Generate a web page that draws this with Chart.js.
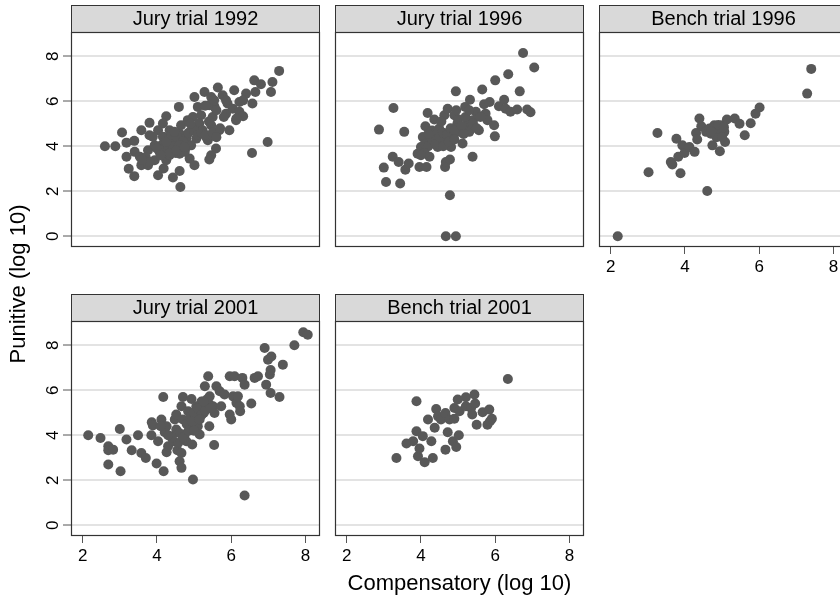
<!DOCTYPE html>
<html><head><meta charset="utf-8">
<script src="https://cdn.jsdelivr.net/npm/chart.js"></script>
<style>
html,body{margin:0;padding:0;background:#fff;overflow:hidden;}
#wrap{position:relative;width:840px;height:602px;overflow:hidden;background:#fff;}
#wrap canvas{position:absolute;left:0;top:0;}
</style></head><body>
<div id="wrap">
<canvas id="c0" width="860" height="602"></canvas>
<canvas id="c1" width="860" height="602"></canvas>
<canvas id="c2" width="860" height="602"></canvas>
<canvas id="c3" width="860" height="602"></canvas>
<canvas id="c4" width="860" height="602"></canvas>
</div>
<script>
// ---- data ----
const panelTitles = ['Jury trial 1992', 'Jury trial 1996', 'Bench trial 1996', 'Jury trial 2001', 'Bench trial 2001'];
const xTicks = [2, 4, 6, 8];
const yTicks = [0, 2, 4, 6, 8];
const xAxisTitle = 'Compensatory (log 10)';
const yAxisTitle = 'Punitive (log 10)';

const jury1992 = [
[2.60,4.00],[2.88,4.00],[3.06,4.61],[3.18,4.16],[3.18,3.53],[3.24,3.00],[3.39,4.24],[3.39,2.67],[3.40,3.75],[3.54,3.53],[3.58,3.16],[3.58,4.71],
[3.80,5.04],[3.80,4.49],[3.76,3.82],[3.67,3.45],[4.03,2.71],[4.18,3.01],[4.43,2.61],[4.61,2.90],[4.63,2.19],[4.88,3.45],[5.01,3.16],
[4.25,5.33],[4.16,5.01],[4.03,4.71],[4.16,4.42],[4.12,4.04],[4.07,3.75],[4.25,3.38],[4.34,4.71],[4.38,4.27],[4.43,3.82],[4.52,4.12],
[4.61,4.56],[4.59,5.75],[4.70,3.82],[4.79,3.97],[4.65,4.93],[4.83,5.16],[4.97,5.30],[5.01,6.19],[5.10,5.75],[5.19,5.38],[5.14,5.01],
[5.23,4.71],[5.32,4.42],[5.28,6.41],[5.46,6.19],[5.41,5.82],[5.55,5.75],[5.64,6.61],[5.50,5.30],[5.46,4.93],[5.37,4.27],[5.50,4.49],
[5.59,3.90],[5.46,3.60],[5.41,3.41],[5.68,4.71],[5.77,6.27],[5.90,5.90],[5.86,5.45],[5.95,4.71],[6.08,6.49],[6.04,5.67],[6.13,5.16],
[6.22,5.53],[6.40,6.34],[6.22,5.97],[6.62,6.93],[6.65,6.41],[6.57,5.90],[6.80,6.76],[7.11,6.86],[7.07,6.41],[6.98,4.19],[6.56,3.70],
[7.29,7.35],[4.79,4.34],[5.06,4.34],[4.92,4.04],[4.61,3.67],[4.34,3.60],[3.94,4.04],[3.89,4.42],[3.94,3.38],[3.76,3.16],
[4.20,3.90],[4.30,4.00],[4.45,4.00],[4.50,3.70],[4.25,4.20],[4.40,4.50],[4.55,4.40],[4.70,4.20],[4.00,3.90],[4.10,3.60],[4.60,4.05],
[4.75,3.75],[4.85,4.60],[5.00,4.70],[5.10,4.50],[5.20,4.60],[5.30,4.50],[5.50,4.60],[5.60,4.40],[5.40,5.10],[5.60,5.60],[5.80,5.30],
[5.30,5.80],[4.90,5.00],[5.70,4.80],[4.35,3.70],[3.70,3.50],[3.80,3.30],[3.60,3.40],[5.54,6.04],[5.86,6.04],[6.32,6.04],[6.32,5.33],
[6.14,5.23],[4.47,4.64],[4.52,3.82],[4.74,3.97]
];

const jury1996 = [
[2.87,4.74],[3.26,5.70],[3.00,3.05],[3.06,2.41],[3.24,3.53],[3.40,3.30],[3.44,2.34],[3.55,4.64],[3.58,2.96],[3.67,3.23],[3.91,3.67],
[3.96,3.08],[4.00,3.97],[4.05,4.41],[4.12,4.89],[4.15,3.08],[4.18,5.48],[4.23,4.27],[4.23,3.53],[4.36,5.19],[4.40,4.56],[4.45,3.97],
[4.49,4.79],[4.58,4.27],[4.63,5.38],[4.65,3.08],[4.67,3.30],[4.72,5.67],[4.78,3.41],[4.78,1.82],[4.67,0.00],[4.94,0.00],[4.81,3.97],
[4.85,4.49],[4.94,6.44],[4.90,5.38],[4.98,5.00],[5.03,4.64],[5.12,4.12],[5.19,5.75],[5.21,4.93],[5.32,6.07],[5.30,4.64],[5.39,3.53],
[5.40,5.16],[5.48,5.53],[5.56,4.71],[5.65,6.52],[5.70,5.87],[5.74,5.45],[5.79,5.16],[5.85,5.97],[5.97,4.93],[5.99,4.44],[6.00,6.93],
[6.10,5.78],[6.24,6.07],[6.28,5.67],[6.35,7.20],[6.41,5.53],[6.59,5.63],[6.66,6.44],[6.75,8.15],[6.86,5.63],[6.95,5.51],[7.05,7.50],
[4.10,4.10],[4.20,4.00],[4.30,4.30],[4.40,4.10],[4.50,4.40],[4.60,4.60],[4.70,4.50],[4.80,4.80],[4.90,4.70],[5.00,5.20],[5.10,4.90],
[4.30,4.70],[4.10,3.70],[4.00,3.60],[4.60,4.00],[4.75,4.20],[4.90,4.30],[5.20,5.30],[5.40,5.00],[5.50,4.80],[5.60,5.30],[5.30,5.60],
[4.55,5.10],[4.20,4.55],[4.95,5.60],[5.15,4.55]
];

const bench1996 = [
[2.19,0.00],[3.02,2.84],[3.26,4.59],[3.62,3.30],[3.66,3.19],[3.77,4.33],[3.82,3.53],[3.88,2.80],[3.93,4.04],[3.99,3.70],[4.12,3.97],
[4.26,3.75],[4.30,4.59],[4.33,4.30],[4.39,5.23],[4.44,4.89],[4.60,2.01],[4.57,4.64],[4.66,4.79],[4.70,4.56],[4.74,4.04],[4.79,4.93],
[4.83,4.71],[4.88,4.86],[4.92,4.56],[4.94,3.78],[5.01,4.93],[5.06,4.64],[5.08,4.19],[5.13,5.19],[5.34,5.23],[5.47,5.00],[5.61,4.49],
[5.77,5.02],[5.90,5.45],[6.01,5.72],[7.29,6.34],[7.40,7.44],
[4.80,4.60],[4.85,4.40],[4.95,4.75],[4.75,4.80],[5.00,4.40],[4.90,4.95],[4.70,4.65],[5.05,4.85]
];

const jury2001 = [
[2.15,4.00],[2.48,3.88],[2.69,3.51],[2.69,3.33],[2.82,3.36],[2.69,2.70],[3.00,4.28],[3.02,2.40],[3.18,3.81],[3.32,3.33],[3.49,4.00],
[3.58,3.21],[3.70,2.99],[3.85,4.00],[3.86,4.58],[3.89,4.43],[3.99,2.74],[4.03,3.73],[4.12,4.70],[4.17,5.70],[4.18,2.40],[4.21,4.13],
[4.26,4.40],[4.26,3.24],[4.30,3.51],[4.36,3.96],[4.44,3.73],[4.48,4.70],[4.52,4.92],[4.52,4.25],[4.55,3.33],[4.57,3.66],[4.61,2.84],
[4.66,3.21],[4.66,2.55],[4.66,5.29],[4.70,5.70],[4.70,4.70],[4.75,4.03],[4.79,3.73],[4.84,5.07],[4.88,4.40],[4.93,5.61],[4.95,3.59],
[4.97,2.03],[5.02,4.84],[5.06,5.29],[5.10,4.40],[5.15,4.03],[5.20,5.50],[5.26,4.99],[5.29,6.18],[5.31,5.29],[5.38,6.62],[5.41,4.40],
[5.42,5.73],[5.51,5.29],[5.54,3.57],[5.55,4.99],[5.60,6.18],[5.69,5.96],[5.73,5.29],[5.82,5.81],[5.96,6.62],[5.96,4.92],[6.00,4.70],
[6.05,5.73],[6.09,6.62],[6.14,5.44],[6.18,5.73],[6.23,5.29],[6.24,5.07],[6.30,6.55],[6.36,6.25],[6.36,1.32],[6.54,5.41],[6.63,6.55],
[6.72,6.62],[6.90,7.88],[6.94,6.25],[6.99,7.36],[7.04,6.70],[7.08,7.50],[7.06,5.88],[7.06,6.90],[7.30,5.70],[7.39,7.14],[7.70,8.00],
[7.94,8.58],[8.06,8.47],
[4.80,4.50],[4.90,4.80],[5.00,5.00],[5.10,5.20],[5.20,4.90],[5.30,5.10],[5.40,5.40],[4.95,4.60],[5.15,4.70],[4.60,4.10],[4.40,3.90],
[4.70,3.90],[4.85,4.20],[5.35,5.60],[5.45,5.20],[5.00,4.20],[4.30,4.00],[4.10,4.40],[5.25,5.50]
];

const bench2001 = [
[3.34,2.99],[3.61,3.63],[3.79,3.73],[3.88,5.51],[3.88,4.18],[3.92,3.07],[3.96,3.41],[4.05,3.96],[4.10,2.80],[4.19,4.70],[4.28,3.73],
[4.32,2.99],[4.37,4.33],[4.41,5.17],[4.46,4.84],[4.54,4.70],[4.66,4.99],[4.66,3.36],[4.72,4.13],[4.77,4.70],[4.86,3.73],[4.90,4.73],
[4.90,5.21],[4.95,3.48],[4.99,5.59],[5.02,4.00],[5.04,5.07],[5.21,5.69],[5.21,5.29],[5.35,5.21],[5.38,4.92],[5.44,5.81],[5.46,5.41],
[5.50,4.47],[5.66,5.02],[5.79,4.47],[5.84,5.14],[5.86,4.62],[5.91,4.73],[6.34,6.50]
];

// ---- layout ----
const W = 860, H = 602;
const X_MIN = 1.686, X_MAX = 8.39, Y_MIN = -0.48, Y_MAX = 9.08;
const HEADER_H = 27;
const panels = [
  {title: panelTitles[0], data: jury1992, rect: {l:71,  r:320, t:32,  b:247}, yLabels:true,  xLabels:false},
  {title: panelTitles[1], data: jury1996, rect: {l:335, r:584, t:32,  b:247}, yLabels:false, xLabels:false},
  {title: panelTitles[2], data: bench1996, rect: {l:599, r:848, t:32,  b:247}, yLabels:false, xLabels:true},
  {title: panelTitles[3], data: jury2001, rect: {l:71,  r:320, t:321, b:536}, yLabels:true,  xLabels:true, yTitle:true},
  {title: panelTitles[4], data: bench2001, rect: {l:335, r:584, t:321, b:536}, yLabels:false, xLabels:true, xTitle:true}
];
const FONT = '"Liberation Sans", Arial, Helvetica, sans-serif';
Chart.defaults.font.family = FONT;

const deco = {
  id: 'deco',
  afterDraw(chart, args, o) {
    const ctx = chart.ctx, ca = chart.chartArea;
    ctx.save();
    // header
    ctx.fillStyle = '#d9d9d9';
    ctx.fillRect(ca.left, ca.top - HEADER_H, ca.right - ca.left, HEADER_H);
    ctx.strokeStyle = '#333';
    ctx.lineWidth = 1;
    ctx.strokeRect(ca.left + 0.5, ca.top - HEADER_H + 0.5, ca.right - ca.left - 1, HEADER_H);
    ctx.fillStyle = '#000';
    ctx.font = '20px ' + FONT;
    ctx.textAlign = 'center';
    ctx.textBaseline = 'middle';
    ctx.fillText(o.title, (ca.left + ca.right) / 2, ca.top - HEADER_H / 2 + 1);
    // plot border
    ctx.strokeStyle = '#333';
    ctx.lineWidth = 1.2;
    ctx.strokeRect(ca.left + 0.5, ca.top + 0.5, ca.right - ca.left - 1, ca.bottom - ca.top - 1);
    // rotated y tick labels
    if (o.yLabels) {
      const ys = chart.scales.y;
      ctx.font = '17px ' + FONT;
      ctx.textAlign = 'center';
      ctx.textBaseline = 'alphabetic';
      ys.ticks.forEach(t => {
        const py = ys.getPixelForValue(t.value);
        ctx.save();
        ctx.translate(ca.left - 13, py);
        ctx.rotate(-Math.PI / 2);
        ctx.fillText(String(t.value), 0, 0);
        ctx.restore();
      });
    }
    if (o.yTitle) {
      const cy = (panels[0].rect.t + panels[3].rect.b) / 2;
      ctx.font = '22px ' + FONT;
      ctx.textAlign = 'center';
      ctx.textBaseline = 'middle';
      ctx.translate(ca.left - 52, cy);
      ctx.rotate(-Math.PI / 2);
      ctx.fillText(yAxisTitle, 0, 0);
    }
    ctx.restore();
  }
};

panels.forEach((p, i) => {
  const xAxisH = p.xLabels ? (p.xTitle ? H - p.rect.b : 40) : 0;
  new Chart(document.getElementById('c' + i), {
    type: 'scatter',
    data: {datasets: [{
      data: p.data.map(([x, y]) => ({x, y})),
      backgroundColor: '#585858', borderWidth: 0,
      pointRadius: 5, pointHoverRadius: 5
    }]},
    options: {
      responsive: false, animation: false, devicePixelRatio: 1, events: [],
      layout: {padding: {left: p.rect.l, right: W - p.rect.r, top: p.rect.t, bottom: H - p.rect.b - xAxisH}},
      plugins: {
        legend: {display: false}, tooltip: {enabled: false},
        deco: {title: p.title, yLabels: p.yLabels, yTitle: !!p.yTitle}
      },
      scales: {
        x: {
          type: 'linear', min: X_MIN, max: X_MAX, display: p.xLabels,
          afterBuildTicks: s => { s.ticks = xTicks.map(v => ({value: v})); },
          afterFit: s => { s.height = xAxisH; },
          grid: {drawOnChartArea: false, drawTicks: true, tickLength: 7, tickColor: '#555', tickWidth: 1},
          border: {display: false},
          ticks: {font: {size: 17}, color: '#000', padding: 3, maxRotation: 0, minRotation: 0},
          title: {display: !!p.xTitle, text: xAxisTitle, font: {size: 22}, color: '#000', padding: {top: 0, bottom: 5}}
        },
        y: {
          type: 'linear', min: Y_MIN, max: Y_MAX,
          afterBuildTicks: s => { s.ticks = yTicks.map(v => ({value: v})); },
          afterFit: s => { s.width = 0; },
          grid: {color: '#e3e3e3', lineWidth: 2, drawTicks: p.yLabels, tickLength: 8, tickColor: '#555', tickWidth: 1},
          border: {display: false},
          ticks: {display: false}
        }
      }
    },
    plugins: [deco]
  });
});
</script>
</body></html>
